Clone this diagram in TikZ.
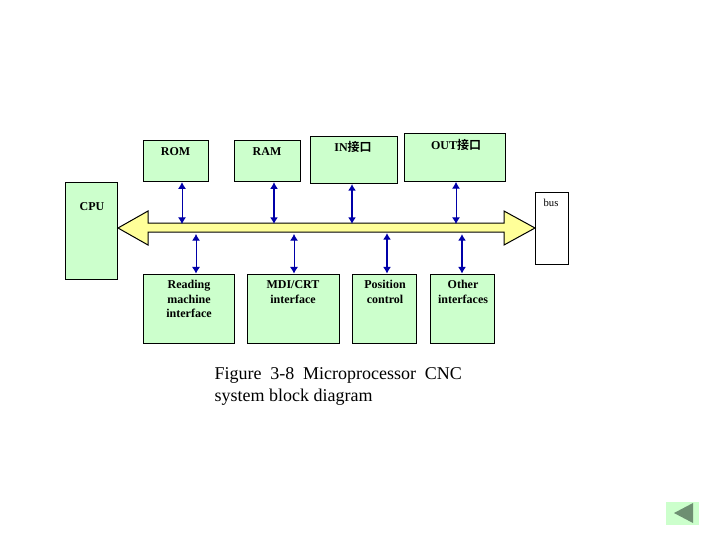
\documentclass[tikz,border=0pt]{standalone}
\usepackage{fontspec}
\usetikzlibrary{arrows.meta}
\setmainfont{Liberation Serif}
\newfontfamily\cjk{Noto Sans CJK SC}[BoldFont={Noto Sans CJK SC Bold}]
\begin{document}
\begin{tikzpicture}[x=0.75pt, y=-0.75pt, thick]
        \useasboundingbox (0,0) rectangle (720,540);
        \definecolor{boxgreen}{HTML}{CCFFCC}
        \definecolor{busyellow}{HTML}{FFFF99}
        \definecolor{linkblue}{HTML}{0000A8}
        \tikzstyle{box}=[draw, fill=boxgreen, line width=0.75pt, inner sep=0pt]
        \tikzstyle{whitebox}=[draw, fill=white, line width=0.75pt, inner sep=0pt]
        \tikzstyle{txt}=[inner sep=0pt, align=center, font=\fontsize{9}{10.9}\selectfont\bfseries]
        \tikzstyle{late}=[{Latex[length=5pt,width=6pt]}-{Latex[length=5pt,width=6pt]}, linkblue, line width=0.75pt]
        \tikzstyle{latebold}=[{Latex[length=5pt,width=6pt]}-{Latex[length=5pt,width=6pt]}, linkblue, line width=1.3pt]

        \node[box, minimum width=49pt, minimum height=31pt] (ROM) at (175.7,161) {};
        \node[box, minimum width=49.75pt, minimum height=31pt] (RAM) at (267.2,161) {};
        \node[box, minimum width=65.5pt, minimum height=35.5pt] (IN) at (353.7,159.8) {};
        \node[box, minimum width=76pt, minimum height=36.25pt] (OUT) at (454.7,157.3) {};
        \node[box, minimum width=39.25pt, minimum height=73pt] (CPU) at (91.2,230.8) {};
        \node[whitebox, minimum width=25pt, minimum height=54.25pt] (BUS) at (551.8,228.3) {};
        \node[box, minimum width=68.5pt, minimum height=52pt] (READ) at (188.7,308.8) {};
        \node[box, minimum width=69.25pt, minimum height=52pt] (MDI) at (293.2,308.8) {};
        \node[box, minimum width=48.25pt, minimum height=52pt] (POS) at (384.2,308.8) {};
        \node[box, minimum width=48.25pt, minimum height=52pt] (OTHER) at (462.2,308.8) {};

        \node[txt] (ROMt) at (175.5,152) {ROM};
        \node[txt] (RAMt) at (267,152) {RAM};
        \node[txt] (INt) at (353,147) {IN{\cjk 接口}};
        \node[txt] (OUTt) at (456,145) {OUT{\cjk 接口}};
        \node[txt] (CPUt) at (92,207) {CPU};
        \node[txt, font=\fontsize{8}{10}\selectfont] (BUSt) at (551,203) {bus};
        \node[txt, anchor=north] (READt) at (189,280) {Reading\\machine\\interface};
        \node[txt, anchor=north] (MDIt) at (293,280) {MDI/CRT\\interface};
        \node[txt, anchor=north] (POSt) at (385,280) {Position\\control};
        \node[txt, anchor=north] (OTHERt) at (463,280) {Other\\interfaces};

        \draw[line width=0.75pt, fill=busyellow] (118,228) -- (148,211) -- (148,223) -- (504,223)
            -- (504,211) -- (535,228) -- (504,245) -- (504,232) -- (148,232) -- (148,245) -- cycle;

        \coordinate (A1) at (182,224);
        \coordinate (A2) at (274,224);
        \coordinate (A3) at (352,224);
        \coordinate (A4) at (456,224);
        \coordinate (B1) at (196,234);
        \coordinate (B2) at (294,234);
        \coordinate (B3) at (387,233);
        \coordinate (B4) at (462,234);
        \draw[late] (ROM.south -| A1)--(A1);
        \draw[latebold] (RAM.south -| A2)--(A2);
        \draw[latebold] (IN.south -| A3)--(A3);
        \draw[late] (OUT.south -| A4)--(A4);
        \draw[late] (B1)--(READ.north -| B1);
        \draw[late] (B2)--(MDI.north -| B2);
        \draw[latebold] (B3)--(POS.north -| B3);
        \draw[latebold] (B4)--(OTHER.north -| B4);

        \node[anchor=north west, inner sep=0pt, align=left, font=\fontsize{13.5}{16.5}\selectfont] (CAP) at (214,367)
            {Figure\hspace{6.6pt}3-8\hspace{6.6pt}Microprocessor\hspace{6.6pt}CNC\\system block diagram};

        \node[fill=boxgreen, inner sep=0pt, minimum width=24.75pt, minimum height=17.25pt] (BACK) at (682.5,513.5) {};
        \fill[fill={rgb,255:red,110;green,143;blue,114}] (674,513) -- (693,503) -- (693,523) -- cycle;
    \end{tikzpicture}
\end{document}
